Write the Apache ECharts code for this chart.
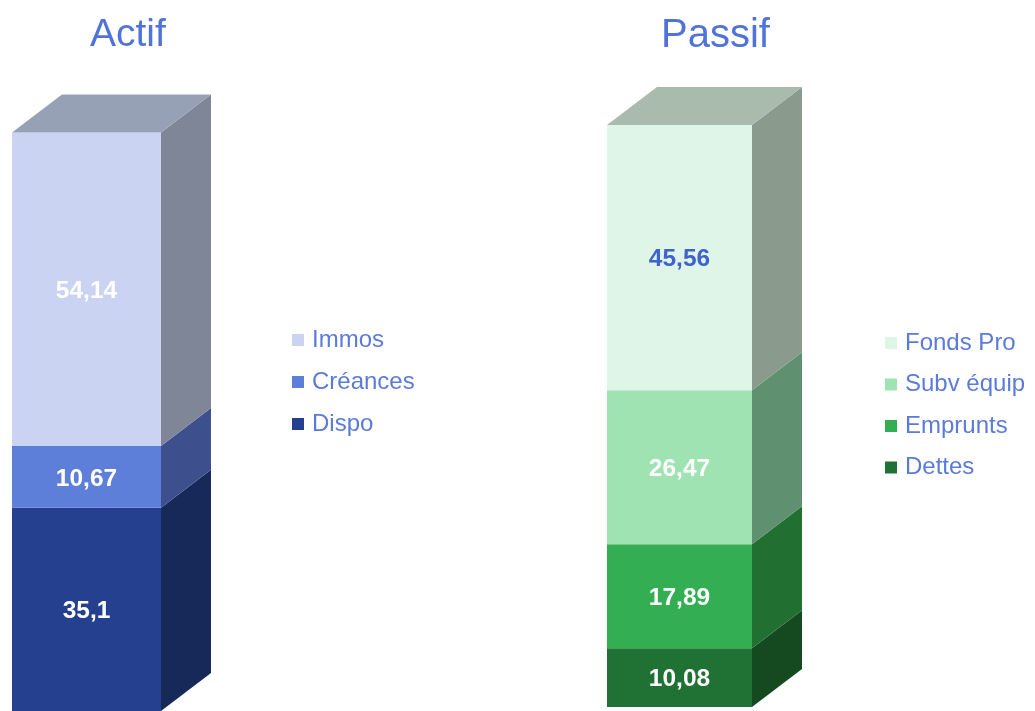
<!DOCTYPE html>
<html><head><meta charset="utf-8">
<script src="https://cdn.jsdelivr.net/npm/echarts@6/dist/echarts.min.js"></script>
<style>html,body{margin:0;padding:0;background:#fff}#c{width:1035px;height:711px}</style>
</head><body><div id="c"></div>
<script>
// ---- data ----
const actifNames = ['Dispo', 'Créances', 'Immos'];
const actifValues = [35.1, 10.67, 54.14];
const passifNames = ['Dettes', 'Emprunts', 'Subv équip', 'Fonds Pro'];
const passifValues = [10.08, 17.89, 26.47, 45.56];
const categories = ['Total'];
const yMax = 100;

// ---- styles ----
const actifFront = ['#24408E', '#5E7FD9', '#CAD4F2'];
const actifSide  = ['#172959', '#3D4F8C', '#7F8698'];
const actifTop   = '#97A1B6';
const actifLabel = ['#FFFFFF', '#FFFFFF', '#FFFFFF'];
const passifFront = ['#207234', '#33AE52', '#9FE3B3', '#DFF5E7'];
const passifSide  = ['#154A21', '#217032', '#5F9070', '#8A9B8D'];
const passifTop   = '#A8BBAC';
const passifLabel = ['#FFFFFF', '#FFFFFF', '#FFFFFF', '#3F62CF'];
const DX = 50, DY = 38;
const fontFam = 'Liberation Sans, Arial, sans-serif';

function fmt(v) { return String(v).replace('.', ','); }

function makeSeries(names, values, front, side, topColor, labelColors, gridIdx) {
  const out = [];
  let acc = 0;
  names.forEach((name, i) => {
    const base = acc; acc += values[i];
    const isLast = i === names.length - 1;
    out.push({
      type: 'custom',
      name: name,
      xAxisIndex: gridIdx, yAxisIndex: gridIdx,
      itemStyle: { color: front[i] },
      encode: { x: 0, y: 2 },
      data: [[0, base, acc, values[i]]],
      renderItem: function (params, api) {
        const b = api.value(1), t = api.value(2), v = api.value(3);
        const pb = api.coord([0, b]);
        const pt = api.coord([0, t]);
        const w = api.size([1, 0])[0];
        const x0 = pb[0] - w / 2, x1 = x0 + w;
        const yb = pb[1], yt = pt[1];
        const children = [
          { type: 'polygon', shape: { points: [[x1, yb], [x1 + DX, yb - DY], [x1 + DX, yt - DY], [x1, yt]] },
            style: { fill: side[i] } },
          { type: 'rect', shape: { x: x0, y: yt, width: w, height: yb - yt },
            style: { fill: front[i] } }
        ];
        if (isLast) {
          children.push({ type: 'polygon', shape: { points: [[x0, yt], [x0 + DX, yt - DY], [x1 + DX, yt - DY], [x1, yt]] },
            style: { fill: topColor } });
        }
        children.push({ type: 'text', style: {
          text: fmt(v), x: (x0 + x1) / 2, y: (yb + yt) / 2 + 2, align: 'center', verticalAlign: 'middle',
          fill: labelColors[i], fontSize: 24.5, fontWeight: 'bold', fontFamily: fontFam } });
        return { type: 'group', children: children };
      }
    });
  });
  return out;
}

const series = [].concat(
  makeSeries(actifNames, actifValues, actifFront, actifSide, actifTop, actifLabel, 0),
  makeSeries(passifNames, passifValues, passifFront, passifSide, passifTop, passifLabel, 1)
);

const chart = echarts.init(document.getElementById('c'), null, { renderer: 'canvas' });
chart.setOption({
  animation: false,
  backgroundColor: '#ffffff',
  title: [
    { text: 'Actif', left: 85, top: 11, textStyle: { fontSize: 39, fontWeight: 'normal', color: '#4F73D8', fontFamily: fontFam } },
    { text: 'Passif', left: 656, top: 11, textStyle: { fontSize: 40, fontWeight: 'normal', color: '#4F73D8', fontFamily: fontFam } }
  ],
  grid: [
    { left: 12, top: 132, width: 149, height: 582 },
    { left: 607, top: 125, width: 145, height: 582 }
  ],
  xAxis: [
    { type: 'category', data: categories, gridIndex: 0, show: false },
    { type: 'category', data: categories, gridIndex: 1, show: false }
  ],
  yAxis: [
    { type: 'value', min: 0, max: yMax, gridIndex: 0, show: false, splitLine: { show: false } },
    { type: 'value', min: 0, max: yMax, gridIndex: 1, show: false, splitLine: { show: false } }
  ],
  legend: [
    { data: actifNames.slice().reverse(), orient: 'vertical', left: 287, top: 323, icon: 'rect',
      itemWidth: 12, itemHeight: 12, itemGap: 18, itemStyle: {},
      textStyle: { fontSize: 24, color: '#5A7BD9', fontFamily: fontFam, padding: [2, 0, 0, 3] } },
    { data: passifNames.slice().reverse(), orient: 'vertical', left: 880, top: 326, icon: 'rect',
      itemWidth: 12, itemHeight: 12, itemGap: 17.5,
      textStyle: { fontSize: 24, color: '#5A7BD9', fontFamily: fontFam, padding: [2, 0, 0, 3] } }
  ],
  series: series
});
</script>
</body></html>
